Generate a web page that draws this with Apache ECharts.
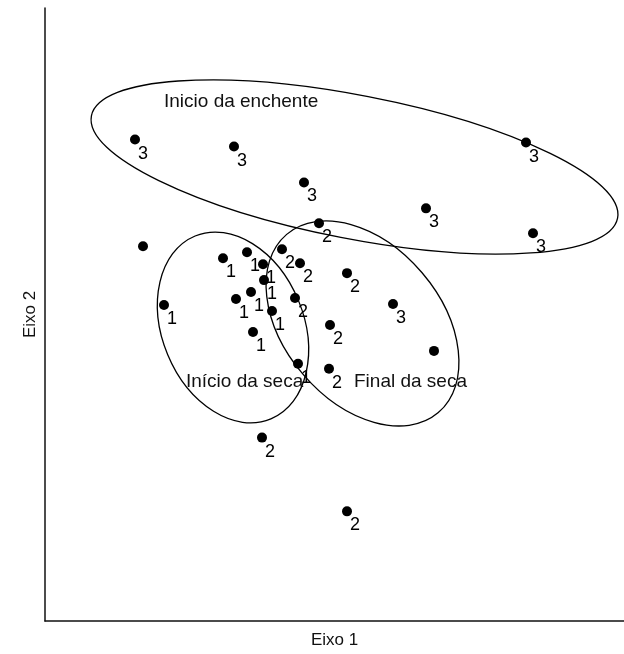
<!DOCTYPE html>
<html>
<head>
<meta charset="utf-8">
<script src="https://cdn.jsdelivr.net/npm/echarts@6/dist/echarts.min.js"></script>
<style>
  html, body { margin: 0; padding: 0; background: #fff; }
  #chart { width: 624px; height: 654px; }
</style>
</head>
<body>
<div id="chart"></div>
<script>
// scores on the two axes (arbitrary units) and the period code of each sample
const eixo1 = [90, 189, 259, 481, 381, 488, 348,
  274, 237, 255, 302, 250, 285, 284, 217, 302,
  178, 202, 218, 219, 206, 191, 227, 208, 119, 253,
  98, 389];
const eixo2 = [483, 476, 440, 480, 414, 389, 318,
  399, 373, 359, 349, 324, 297, 253, 184, 110,
  364, 370, 358, 342, 330, 323, 311, 290, 317, 258,
  376, 271];
const periodo = ["3", "3", "3", "3", "3", "3", "3",
  "2", "2", "2", "2", "2", "2", "2", "2", "2",
  "1", "1", "1", "1", "1", "1", "1", "1", "1", "1",
  "", ""];

// group ellipses: centre, semi-axes, tilt (degrees)
const grupoNomes = ["Inicio da enchente", "Início da seca", "Final da seca"];
const grupoCentroX = [309.5, 188, 317.5];
const grupoCentroY = [455.5, 294.5, 298.5];
const grupoEixoA = [268, 99, 117];
const grupoEixoB = [72, 71, 78.5];
const grupoAngulo = [-11, -67.5, -49.6];
// where each group name is written
const nomeX = [119, 141, 309];
const nomeY = [521, 240, 240];

const font = "'Liberation Sans', Arial, sans-serif";

const chart = echarts.init(document.getElementById("chart"));

const points = eixo1.map((x, i) => [x, eixo2[i], periodo[i]]);
const ellipses = grupoNomes.map((n, i) => [
  grupoCentroX[i], grupoCentroY[i], grupoEixoA[i], grupoEixoB[i], grupoAngulo[i]
]);
const names = grupoNomes.map((n, i) => [nomeX[i], nomeY[i], n]);

chart.setOption({
  animation: false,
  grid: { left: 45, right: 0, top: 8, bottom: 31 },
  xAxis: {
    type: "value",
    min: 0,
    max: 579,
    name: "Eixo 1",
    nameLocation: "middle",
    nameGap: 11,
    nameTextStyle: { color: "#111", fontSize: 17, fontFamily: font },
    axisLine: { lineStyle: { color: "#111", width: 1.5 } },
    axisTick: { show: false },
    axisLabel: { show: false },
    splitLine: { show: false },
  },
  yAxis: {
    type: "value",
    min: 0,
    max: 615,
    name: "Eixo 2",
    nameLocation: "middle",
    nameGap: 6,
    nameTextStyle: { color: "#111", fontSize: 17, fontFamily: font },
    axisLine: { show: true, lineStyle: { color: "#111", width: 1.5 } },
    axisTick: { show: false },
    axisLabel: { show: false },
    splitLine: { show: false },
  },
  series: [
    {
      type: "custom",
      silent: true,
      data: ellipses,
      renderItem: (params, api) => {
        const c = api.coord([api.value(0), api.value(1)]);
        const rx = api.size([api.value(2), 0])[0];
        const ry = api.size([0, api.value(3)])[1];
        return {
          type: "ellipse",
          x: c[0],
          y: c[1],
          rotation: (api.value(4) * Math.PI) / 180,
          shape: { cx: 0, cy: 0, rx: rx, ry: ry },
          style: { fill: "none", stroke: "#000", lineWidth: 1.3 },
        };
      },
    },
    {
      type: "custom",
      silent: true,
      data: names,
      renderItem: (params, api) => {
        const c = api.coord([api.value(0), api.value(1)]);
        return {
          type: "text",
          x: c[0],
          y: c[1],
          style: {
            text: names[params.dataIndex][2],
            fill: "#111",
            font: "19px " + font,
            align: "left",
            verticalAlign: "middle",
          },
        };
      },
    },
    {
      type: "scatter",
      data: points,
      symbol: "circle",
      symbolSize: 10,
      itemStyle: { color: "#000", opacity: 1 },
      silent: true,
      label: {
        show: true,
        position: "inside",
        offset: [8, 14],
        formatter: (p) => p.value[2],
        color: "#000",
        fontSize: 18,
        fontFamily: font,
      },
    },
  ],
});
</script>
</body>
</html>
